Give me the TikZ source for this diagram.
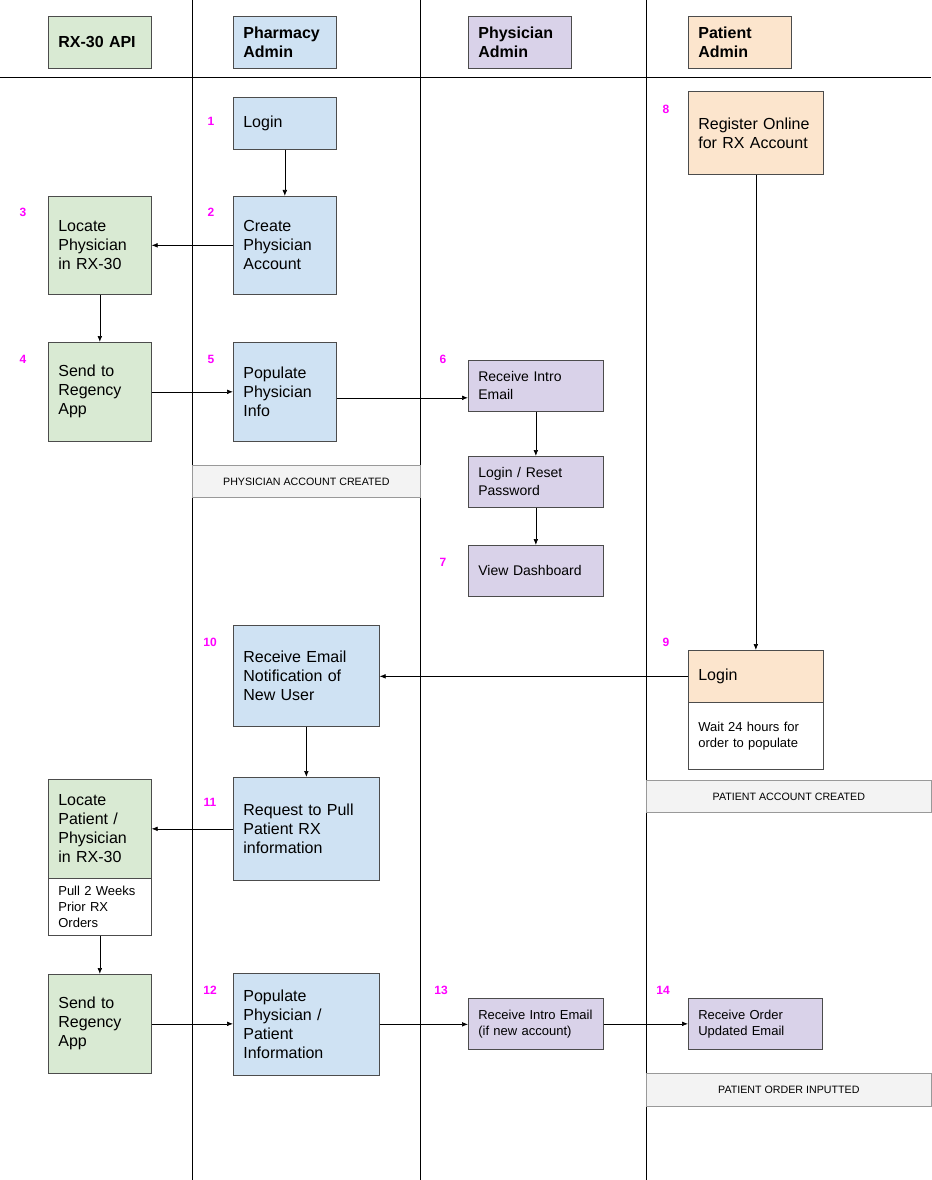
\documentclass[tikz,border=0pt]{standalone}
\usepackage{fontspec}
\setmainfont{Liberation Sans}
\usetikzlibrary{arrows.meta}
\definecolor{cg}{HTML}{D9EAD3}
\definecolor{cb}{HTML}{CFE2F3}
\definecolor{cp}{HTML}{D9D2E9}
\definecolor{co}{HTML}{FCE5CD}
\definecolor{cban}{HTML}{F3F3F3}
\definecolor{mag}{HTML}{FF00FF}
\begin{document}
\begin{tikzpicture}[x=0.75pt,y=-0.75pt,
 box/.style={draw=black!70,line width=0.5pt,anchor=north west,inner xsep=7.5pt,inner ysep=0pt,align=left,font=\fontsize{12}{14.25}\selectfont},
 sbox/.style={box,font=\fontsize{9.75}{12}\selectfont},
 ban/.style={draw=black!40,fill=cban,line width=0.5pt,anchor=north west,inner sep=0pt,font=\fontsize{8}{9}\selectfont},
 hd/.style={box,font=\bfseries\fontsize{12}{14.25}\selectfont},
 num/.style={text=mag,font=\bfseries\fontsize{9}{10}\selectfont,inner sep=0pt},
 ar/.style={-{Latex[length=4.5pt,width=3.5pt]},line width=0.5pt},
 w103/.style={minimum width=77.25pt,text width=62.25pt},
 w135/.style={minimum width=101.25pt,text width=86.25pt},
 w146/.style={minimum width=109.5pt,text width=94.5pt}]
\useasboundingbox (0,0) rectangle (931,1180);
\fill[white] (0,0) rectangle (931,1180);
% lanes
\draw[line width=0.5pt] (192,0) -- (192,1180) (420,0) -- (420,1180) (646,0) -- (646,1180);
\draw[line width=0.5pt] (0,77) -- (931,77);
% headers
\node[hd,w103,fill=cg,minimum height=39pt] (h1) at (48,16) {RX-30 API};
\node[hd,w103,fill=cb,minimum height=39pt] (h2) at (233,16) {Pharmacy\\Admin};
\node[hd,w103,fill=cp,minimum height=39pt] (h3) at (468,16) {Physician\\Admin};
\node[hd,w103,fill=co,minimum height=39pt] (h4) at (688,16) {Patient\\Admin};
% phase 1
\node[box,w103,fill=cb,minimum height=39pt] (login1) at (233,97) {Login};
\node[box,w103,fill=cb,minimum height=73.5pt] (create) at (233,196) {Create\\Physician\\Account};
\node[box,w103,fill=cg,minimum height=73.5pt] (loc1) at (48,196) {Locate\\Physician\\in RX-30};
\node[box,w103,fill=cg,minimum height=74.25pt] (send1) at (48,342) {Send to\\Regency\\App};
\node[box,w103,fill=cb,minimum height=74.25pt] (pop1) at (233,342) {Populate\\Physician\\Info};
\node[box,w135,fill=cp,minimum height=38.25pt,font=\fontsize{10.5}{13.5}\selectfont] (ri1) at (468,360) {Receive Intro\\Email};
\node[box,w135,fill=cp,minimum height=38.25pt,font=\fontsize{10.5}{13.5}\selectfont] (lr) at (468,456) {Login / Reset\\Password};
\node[box,w135,fill=cp,minimum height=38.25pt,font=\fontsize{10.5}{13.5}\selectfont] (dash) at (468,545) {View Dashboard};
\node[ban,minimum width=171pt,minimum height=24pt] (b1) at (192,465) {PHYSICIAN ACCOUNT CREATED};
\node[box,w135,fill=co,minimum height=62.25pt] (reg) at (688,91) {Register Online\\for RX Account};
\node[box,w135,fill=co,minimum height=39pt] (login2) at (688,650) {Login};
\node[sbox,w135,fill=white,minimum height=50.25pt] (wait) at (688,702) {Wait 24 hours for\\order to populate};
\node[ban,minimum width=213.75pt,minimum height=24pt] (b2) at (646,780) {PATIENT ACCOUNT CREATED};
\node[box,w146,fill=cb,minimum height=75.75pt] (re) at (233,625) {Receive Email\\Notification of\\New User};
\node[box,w146,fill=cb,minimum height=77.25pt] (req) at (233,777) {Request to Pull\\Patient RX\\information};
\node[box,w103,fill=cg,minimum height=74.25pt] (loc2) at (48,779) {Locate\\Patient /\\Physician\\in RX-30};
\node[sbox,w103,fill=white,minimum height=42.75pt] (pull) at (48,878) {Pull 2 Weeks\\Prior RX\\Orders};
\node[box,w103,fill=cg,minimum height=74.25pt] (send2) at (48,974) {Send to\\Regency\\App};
\node[box,w146,fill=cb,minimum height=76.5pt] (pop2) at (233,973) {Populate\\Physician /\\Patient\\Information};
\node[sbox,w135,fill=cp,minimum height=38.25pt] (ri2) at (468,998) {Receive Intro Email\\(if new account)};
\node[sbox,w135,fill=cp,minimum height=38.25pt,minimum width=100.5pt,text width=85.5pt] (ro) at (688,998) {Receive Order\\Updated Email};
\node[ban,minimum width=213.75pt,minimum height=24.75pt] (b3) at (646,1073) {PATIENT ORDER INPUTTED};
% numbers
\node[num] (n1) at (211,121) {1};
\node[num] (n2) at (211,212) {2};
\node[num] (n3) at (23,212) {3};
\node[num] (n4) at (23,359) {4};
\node[num] (n5) at (211,359) {5};
\node[num] (n6) at (443,359) {6};
\node[num] (n7) at (443,562) {7};
\node[num] (n8) at (666,109) {8};
\node[num] (n9) at (666,642) {9};
\node[num] (n10) at (210,642) {10};
\node[num] (n11) at (210,802) {11};
\node[num] (n12) at (210,990) {12};
\node[num] (n13) at (441,990) {13};
\node[num] (n14) at (663,990) {14};
% arrows
\draw[ar] (login1) -- (create);
\draw[ar] (create) -- (loc1);
\draw[ar] (loc1) -- (send1);
\draw[ar] (send1) -- (pop1);
\draw[ar] ([yshift=-4.5pt]pop1.east) -- ([yshift=-4.5pt]pop1.east -| ri1.west);
\draw[ar] (ri1) -- (lr);
\draw[ar] (lr) -- (dash);
\draw[ar] (reg) -- (login2);
\draw[ar] (login2) -- (login2 -| re.east);
\draw[ar] (re) -- (req);
\draw[ar] (req) -- (req -| loc2.east);
\draw[ar] (pull) -- (send2);
\draw[ar] (send2) -- (send2 -| pop2.west);
\draw[ar] (pop2.east) -- (pop2.east -| ri2.west);
\draw[ar] (ri2) -- (ro);
\end{tikzpicture}
\end{document}
